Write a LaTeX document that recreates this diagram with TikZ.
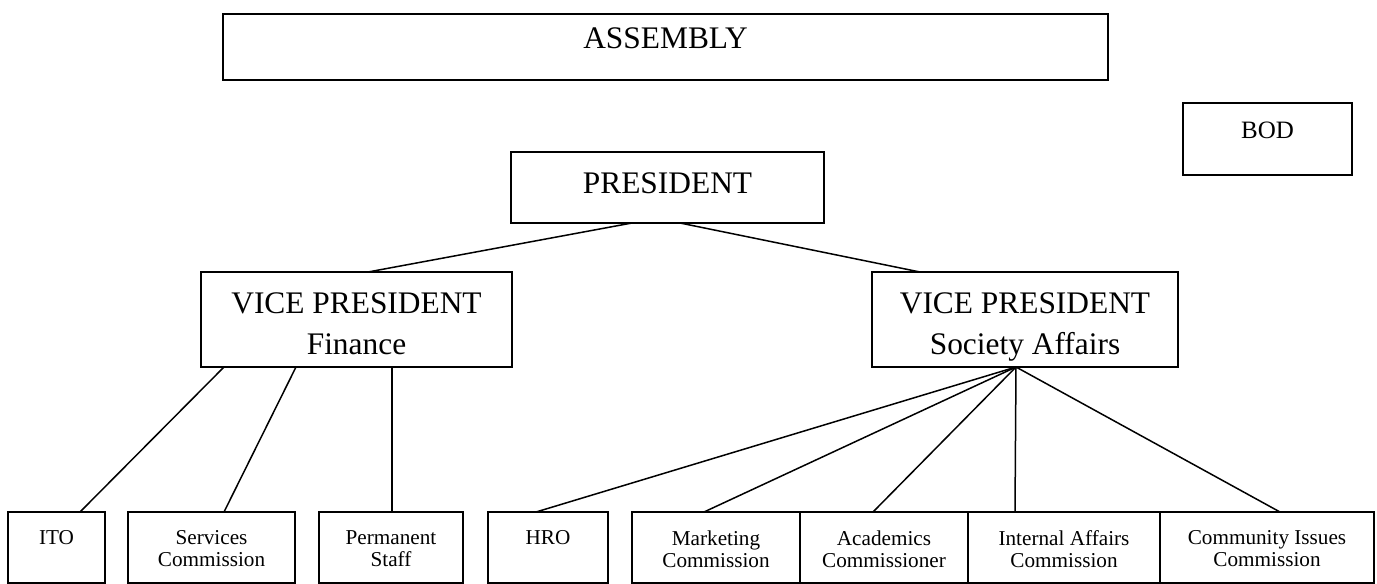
\documentclass[tikz,border=0pt]{standalone}
\usepackage{fontspec}
\setmainfont{Liberation Serif}
\usepackage{tikz}
\usetikzlibrary{calc}

\begin{document}
\begin{tikzpicture}[
    x=0.5pt, y=-0.5pt,
    unitbox/.style={draw, line width=0.8pt, rectangle, anchor=north west, inner sep=0pt, outer sep=0pt},
    bigtxt/.style={anchor=north, yshift=-10pt, inner sep=0pt, align=center, font=\fontsize{15.7}{20.5}\selectfont},
    smalltxt/.style={anchor=north, yshift=-9pt, inner sep=0pt, align=center, font=\fontsize{10.6}{11}\selectfont},
    ln/.style={line width=0.75pt}]
\useasboundingbox (0,0) rectangle (1377,584);
% top level
\node[unitbox, minimum width=442.5pt, minimum height=33pt, label={[bigtxt, yshift=3.5pt]north:ASSEMBLY}] (assembly) at (223,14) {};
\node[unitbox, minimum width=84.5pt, minimum height=36pt, label={[bigtxt, font=\fontsize{12.5}{15}\selectfont, yshift=0.5pt]north:BOD}] (bod) at (1183,103) {};
\node[unitbox, minimum width=156.5pt, minimum height=35.5pt, label={[bigtxt]north:PRESIDENT}] (pres) at (511,152) {};
% vice presidents
\node[unitbox, minimum width=155.5pt, minimum height=47.5pt, label={[bigtxt]north:VICE PRESIDENT\\Finance}] (vpf) at (201,272) {};
\node[unitbox, minimum width=153pt, minimum height=47.5pt, label={[bigtxt]north:VICE PRESIDENT\\Society Affairs}] (vpsa) at (872,272) {};
% bottom row
\node[unitbox, minimum width=48.5pt, minimum height=35.5pt, label={[smalltxt]north:ITO}] (ito) at (8,512) {};
\node[unitbox, minimum width=83.5pt, minimum height=35.5pt, label={[smalltxt]north:Services\\Commission}] (svc) at (128,512) {};
\node[unitbox, minimum width=72pt, minimum height=35.5pt, label={[smalltxt]north:Permanent\\Staff}] (perm) at (319,512) {};
\node[unitbox, minimum width=60pt, minimum height=35.5pt, label={[smalltxt]north:HRO}] (hro) at (488,512) {};
\node[unitbox, minimum width=84pt, minimum height=35.5pt, label={[smalltxt]north:Marketing\\Commission}] (mkt) at (632,512) {};
\node[unitbox, minimum width=84pt, minimum height=35.5pt, label={[smalltxt]north:Academics\\Commissioner}] (acad) at (800,512) {};
\node[unitbox, minimum width=96pt, minimum height=35.5pt, label={[smalltxt]north:Internal Affairs\\Commission}] (intl) at (968,512) {};
\node[unitbox, minimum width=107pt, minimum height=35.5pt, label={[smalltxt]north:Community Issues\\Commission}] (comm) at (1160,512) {};
% connectors
\draw[ln] ($(pres.south west)+(121,0)$) -- ($(vpf.north west)+(167,0)$);
\draw[ln] ($(pres.south west)+(169,0)$) -- ($(vpsa.north west)+(48,0)$);
\draw[ln] ($(vpf.south west)+(23,0)$) -- ($(ito.north west)+(72,0)$);
\draw[ln] ($(vpf.south west)+(95,0)$) -- ($(svc.north west)+(96,0)$);
\draw[ln] ($(vpf.south west)+(191,0)$) -- ($(perm.north west)+(73,0)$);
\draw[ln] ($(vpsa.south west)+(144,0)$) -- ($(hro.north west)+(48,0)$);
\draw[ln] ($(vpsa.south west)+(144,0)$) -- ($(mkt.north west)+(72,0)$);
\draw[ln] ($(vpsa.south west)+(144,0)$) -- ($(acad.north west)+(73,0)$);
\draw[ln] ($(vpsa.south west)+(144,0)$) -- ($(intl.north west)+(47,0)$);
\draw[ln] ($(vpsa.south west)+(144,0)$) -- ($(comm.north west)+(120,0)$);
\end{tikzpicture}
\end{document}
